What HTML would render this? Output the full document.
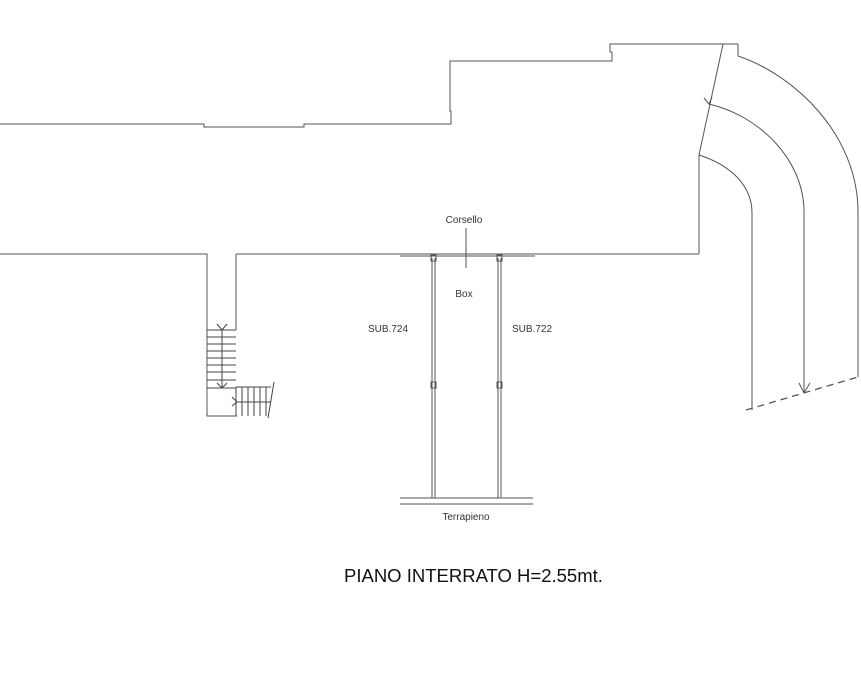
<!DOCTYPE html>
<html><head><style>html,body{margin:0;padding:0;background:#fff}</style></head><body>
<svg width="861" height="670" viewBox="0 0 861 670" xmlns="http://www.w3.org/2000/svg" font-family="Liberation Sans, sans-serif">
<g fill="none" stroke="#555" stroke-width="1">
<polyline points="0,124 204,124 204,127 304,127 304,124 451,124 451,111 450,111 450,61 612,61 612,52 610,52 610,44 738,44 738,56"/>
<path d="M738,56 C795,75 858,135 858,212 L858,377"/>
<line x1="723" y1="44" x2="699" y2="155"/>
<path d="M709,104 C760,116 804,160 804,212 L804,393"/>
<path d="M699,155 C730,165 752,185 752,213 L752,410"/>
<polyline points="0,254 207,254 207,416 237,416"/>
<polyline points="236,254 236,330"/>
<line x1="236" y1="254" x2="699" y2="254"/>
<line x1="699" y1="155" x2="699" y2="254"/>
<line x1="746" y1="410" x2="858" y2="377" stroke-dasharray="7,5" stroke-width="1.3"/>
<polyline points="799,383 804,393 810,383"/>
<polyline points="704,98 709,104 712,97"/>
<g stroke="#444">
<line x1="207" y1="330" x2="236" y2="330"/><line x1="207" y1="337" x2="236" y2="337"/>
<line x1="207" y1="344" x2="236" y2="344"/><line x1="207" y1="351" x2="236" y2="351"/>
<line x1="207" y1="358" x2="236" y2="358"/><line x1="207" y1="365" x2="236" y2="365"/>
<line x1="207" y1="372" x2="236" y2="372"/><line x1="207" y1="380" x2="236" y2="380"/>
<line x1="207" y1="388" x2="236" y2="388"/>
<line x1="222" y1="330" x2="222" y2="388"/>
<polyline points="217,324 222,330 227,324"/><polyline points="217,383 222,388 227,383"/>
<polyline points="236,387 271,387"/>
<line x1="236" y1="387" x2="236" y2="416"/><line x1="242" y1="387" x2="242" y2="416"/>
<line x1="248" y1="387" x2="248" y2="416"/><line x1="254" y1="387" x2="254" y2="416"/>
<line x1="260" y1="387" x2="260" y2="416"/><line x1="266" y1="387" x2="266" y2="416"/>
<line x1="236" y1="402" x2="271" y2="402"/>
<polyline points="232,397 237,402 232,406"/>
<line x1="268" y1="418" x2="274" y2="382"/>
</g>
<line x1="400" y1="256" x2="535" y2="256"/>
<line x1="432" y1="258" x2="432" y2="498"/><line x1="435" y1="258" x2="435" y2="498"/>
<line x1="498" y1="258" x2="498" y2="498"/><line x1="501" y1="258" x2="501" y2="498"/>
<rect x="431" y="255" width="5" height="6"/><rect x="497" y="255" width="5" height="6"/>
<rect x="431" y="382" width="5" height="6"/><rect x="497" y="382" width="5" height="6"/>
<line x1="400" y1="498" x2="533" y2="498"/><line x1="400" y1="504" x2="533" y2="504"/>
<line x1="466" y1="228" x2="466" y2="268"/>
</g>
<g fill="#333" font-size="10">
<text x="464" y="223" text-anchor="middle">Corsello</text>
<text x="464" y="297" text-anchor="middle">Box</text>
<text x="368" y="332">SUB.724</text>
<text x="512" y="332">SUB.722</text>
<text x="466" y="520" text-anchor="middle">Terrapieno</text>
</g>
<text x="344" y="582" font-size="18.5" fill="#111">PIANO INTERRATO H=2.55mt.</text>
</svg>
</body></html>
